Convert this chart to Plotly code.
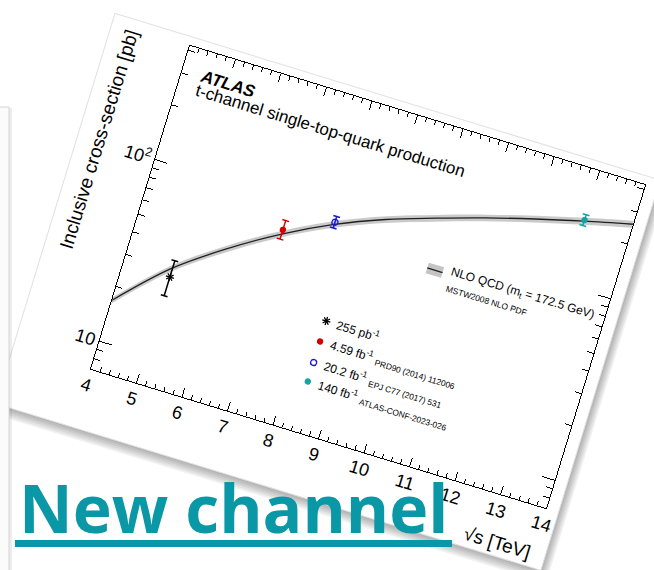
import plotly.graph_objects as go
import math

# ---------------- data ----------------
sqrt_s_theory = [4, 5, 6, 7, 8, 9, 10, 11, 12, 13, 14]
xsec_theory = [16.8, 30.0, 46.0, 66.0, 89.0, 113.0, 137.0, 164.0, 193.0, 224.0, 257.0]
xsec_theory_hi = [17.5, 31.3, 48.0, 68.8, 92.8, 117.8, 142.9, 171.0, 201.3, 233.6, 268.0]
xsec_theory_lo = [16.1, 28.7, 44.0, 63.2, 85.2, 108.2, 131.1, 157.0, 184.7, 214.4, 246.0]

meas_sqrt_s = [5.02, 7.0, 8.0, 13.0]
meas_xsec = [27.0, 69.6, 91.4, 227.0]
meas_err_up = [6.2, 8.7, 6.9, 16.0]
meas_err_dn = [5.7, 7.7, 6.4, 15.0]
meas_lumi = ["255 pb<sup>-1</sup>", "4.59 fb<sup>-1</sup>", "20.2 fb<sup>-1</sup>", "140 fb<sup>-1</sup>"]
meas_ref = ["", "PRD90 (2014) 112006", "EPJ C77 (2017) 531", "ATLAS-CONF-2023-026"]

x_tick_vals = [4, 5, 6, 7, 8, 9, 10, 11, 12, 13, 14]
y_tick_vals = [10, 100]
y_tick_text = ["10", "10<sup>2</sup>"]
y_minor_vals = [8, 9, 20, 30, 40, 50, 60, 70, 80, 90, 200, 300, 400]
y_range_vals = [7.03, 423.0]

# ---------------- styles / geometry ----------------
meas_colors = ["#000000", "#d40000", "#1a1ad0", "#12a4a4"]
meas_symbols = ["asterisk-open", "circle", "circle-open", "circle"]
meas_sizes = [7, 5, 6, 5]

W, H = 654, 570
L, T, PW, PH = 91, 31, 476, 338        # un-rotated plot box
ANGLE = 17.0                           # rotation of the sheet (deg, clockwise)
PIVOT = (L, T + PH)                    # bottom-left corner of the axes
FONT = "Liberation Sans"
TEAL = "#0a98a6"


def fx(px):
    return (px - L) / PW


def fy(py):
    return (T + PH - py) / PH


fig = go.Figure()

# theory band + central line
fig.add_trace(go.Scatter(x=sqrt_s_theory, y=xsec_theory_lo, mode="lines",
                         line=dict(width=0, shape="spline", color="rgba(0,0,0,0)"),
                         hoverinfo="skip", showlegend=False))
fig.add_trace(go.Scatter(x=sqrt_s_theory, y=xsec_theory_hi, mode="lines",
                         line=dict(width=0, shape="spline", color="rgba(0,0,0,0)"),
                         fill="tonexty", fillcolor="rgba(150,150,150,0.5)",
                         hoverinfo="skip", showlegend=False))
fig.add_trace(go.Scatter(x=sqrt_s_theory, y=xsec_theory, mode="lines",
                         line=dict(width=1.3, shape="spline", color="#202020"),
                         hoverinfo="skip", showlegend=False))

# measurements
for i in range(len(meas_sqrt_s)):
    fig.add_trace(go.Scatter(
        x=[meas_sqrt_s[i]], y=[meas_xsec[i]], mode="markers",
        marker=dict(symbol=meas_symbols[i], size=meas_sizes[i], color=meas_colors[i],
                    line=dict(color=meas_colors[i], width=1.3)),
        error_y=dict(type="data", symmetric=False, array=[meas_err_up[i]],
                     arrayminus=[meas_err_dn[i]], color=meas_colors[i],
                     thickness=1.5, width=3.5),
        showlegend=False, hoverinfo="skip"))

# legend markers on an invisible overlay axis (fractions of the plot box)
leg_x = 211 / PW
leg_y = [114.7 / PH, 93.3 / PH, 71.3 / PH, 51.4 / PH]
for i in range(len(meas_sqrt_s)):
    fig.add_trace(go.Scatter(
        x=[leg_x], y=[leg_y[i]], xaxis="x2", yaxis="y2", mode="markers",
        marker=dict(symbol=meas_symbols[i], size=meas_sizes[i], color=meas_colors[i],
                    line=dict(color=meas_colors[i], width=1.3)),
        showlegend=False, hoverinfo="skip"))
    txt = meas_lumi[i]
    if meas_ref[i]:
        txt += " <sub>" + meas_ref[i] + "</sub>"
    fig.add_annotation(x=220 / PW, y=leg_y[i], xref="paper", yref="paper",
                       text=txt, showarrow=False, xanchor="left", yanchor="middle",
                       font=dict(family=FONT, size=12, color="black"))

# NLO legend entry
bx, by = 300 / PW, 195 / PH
fig.add_shape(type="rect", xref="x2", yref="y2", layer="below",
              x0=bx - 8 / PW, x1=bx + 8 / PW, y0=by - 5.5 / PH, y1=by + 5.5 / PH,
              fillcolor="#c4c4c4", line=dict(width=0))
fig.add_shape(type="line", xref="x2", yref="y2", layer="below",
              x0=bx - 8 / PW, x1=bx + 8 / PW, y0=by, y1=by,
              line=dict(color="#202020", width=1.3))
fig.add_annotation(x=313.7 / PW, y=198 / PH, xref="paper", yref="paper",
                   text="NLO QCD (m<sub>t</sub> = 172.5 GeV)", showarrow=False,
                   xanchor="left", yanchor="middle",
                   font=dict(family=FONT, size=12, color="black"))
fig.add_annotation(x=313.7 / PW, y=181 / PH, xref="paper", yref="paper",
                   text="MSTW2008 NLO PDF", showarrow=False,
                   xanchor="left", yanchor="middle",
                   font=dict(family=FONT, size=8.5, color="black"))

# ATLAS label
fig.add_annotation(x=17 / PW, y=301 / PH, xref="paper", yref="paper",
                   text="<b><i>ATLAS</i></b>", showarrow=False,
                   xanchor="left", yanchor="bottom",
                   font=dict(family=FONT, size=17, color="black"))
fig.add_annotation(x=17 / PW, y=285.5 / PH, xref="paper", yref="paper",
                   text="t-channel single-top-quark production", showarrow=False,
                   xanchor="left", yanchor="bottom",
                   font=dict(family=FONT, size=17, color="black"))

# axis titles (ROOT style: right / top aligned)
fig.add_annotation(x=-60 / PW, y=1.0, xref="paper", yref="paper",
                   text="Inclusive cross-section [pb]", textangle=-90, showarrow=False,
                   xanchor="center", yanchor="top",
                   font=dict(family=FONT, size=19, color="black"))
fig.add_annotation(x=1.0, y=-47 / PH, xref="paper", yref="paper",
                   text="√s [TeV]", showarrow=False,
                   xanchor="right", yanchor="middle",
                   font=dict(family=FONT, size=19, color="black"))

# sheet of paper (rotated with the chart) and its shadow
sx0, sx1, sy0, sy1 = 10, 580, 22, 430
for k in range(1, 7):
    fig.add_shape(type="rect", xref="paper", yref="paper", layer="below",
                  x0=fx(sx0 + 1), x1=fx(sx1 + 1.5 * k), y0=fy(sy1 + 1.8 * k), y1=fy(sy0 + 3),
                  fillcolor="rgba(0,0,0,0.055)", line=dict(width=0))
fig.add_shape(type="rect", xref="paper", yref="paper", layer="below",
              x0=fx(sx0), x1=fx(sx1), y0=fy(sy1), y1=fy(sy0),
              fillcolor="white", line=dict(color="#e0e0e0", width=1))

# slide elements (not rotated): card edge at left and the title underline
fig.add_shape(type="rect", xref="paper", yref="paper", layer="above",
              x0=fx(-3), x1=fx(9), y0=fy(580), y1=fy(107),
              fillcolor="#fbfbfb", line=dict(color="#d4d4d4", width=1))
fig.add_shape(type="rect", xref="paper", yref="paper", layer="above",
              x0=fx(9.5), x1=fx(12), y0=fy(580), y1=fy(108),
              fillcolor="rgba(0,0,0,0.07)", line=dict(width=0))
fig.add_shape(type="rect", xref="paper", yref="paper", layer="above",
              x0=fx(15), x1=fx(452), y0=fy(547), y1=fy(540),
              fillcolor=TEAL, line=dict(width=0))

axis_common = dict(showline=True, linecolor="black", linewidth=1, mirror="allticks",
                   ticks="inside", tickcolor="black", tickwidth=1, showgrid=False,
                   zeroline=False, tickfont=dict(family=FONT, size=18, color="black"))

fig.update_layout(
    width=W, height=H, autosize=False,
    margin=dict(l=L, r=W - L - PW, t=T, b=H - T - PH, pad=0),
    paper_bgcolor="white", plot_bgcolor="rgba(0,0,0,0)",
    showlegend=False,
    title=dict(text="New channel", xref="container", yref="container",
               x=19 / W, y=(H - 533) / H, xanchor="left", yanchor="bottom",
               font=dict(family="Open Sans", size=66, color=TEAL, weight=700)),
    xaxis=dict(range=[4, 14], tickvals=x_tick_vals, ticklen=9,
               minor=dict(dtick=0.2, ticks="inside", ticklen=4.5, tickcolor="black"),
               **axis_common),
    yaxis=dict(type="log", range=[math.log10(v) for v in y_range_vals],
               tickvals=y_tick_vals, ticktext=y_tick_text, ticklen=13,
               minor=dict(tickvals=y_minor_vals, ticks="inside", ticklen=6.5, tickcolor="black"),
               **axis_common),
    xaxis2=dict(overlaying="x", range=[0, 1], visible=False),
    yaxis2=dict(overlaying="y", range=[0, 1], visible=False),
)

js = """
(function(){
  var gd = document.getElementById('{plot_id}');
  var T = 'rotate(%g %g %g)';
  function rot(){
    var sels = ['.bglayer', '.layer-below', '.cartesianlayer', '.g-xtitle', '.g-ytitle',
                '.infolayer > .annotation'];
    sels.forEach(function(s){
      gd.querySelectorAll(s).forEach(function(el){ el.setAttribute('transform', T); });
    });
  }
  rot();
  setTimeout(rot, 0);
  setTimeout(rot, 200);
  if (gd.on) { gd.on('plotly_afterplot', rot); }
})();
""" % (ANGLE, PIVOT[0], PIVOT[1])

fig.write_html("out.html", config={"displayModeBar": False, "staticPlot": True},
               post_script=js)
